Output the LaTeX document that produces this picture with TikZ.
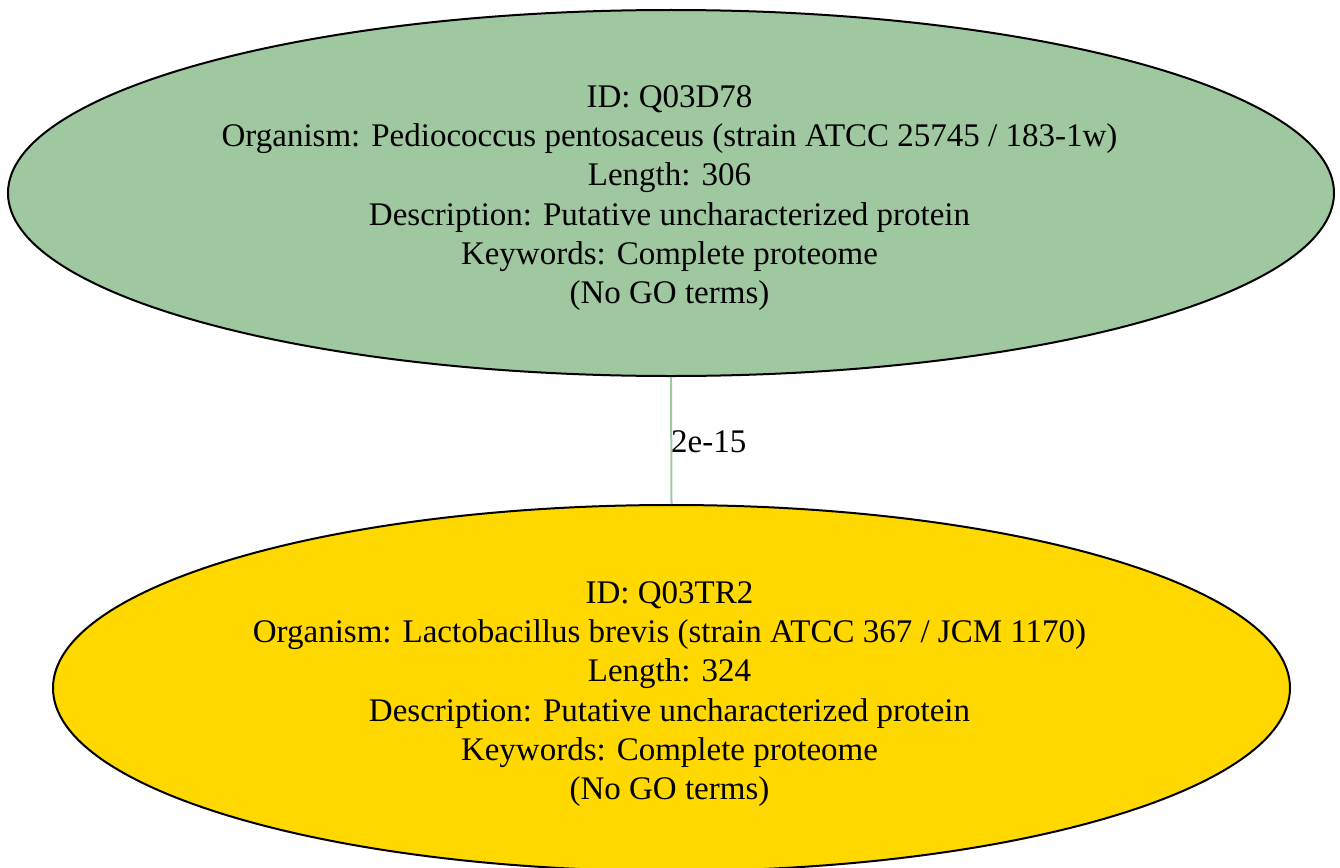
\documentclass[tikz,border=0pt]{standalone}
\usepackage{fontspec}
\setmainfont{Liberation Serif}
\usetikzlibrary{shapes.geometric}
\definecolor{protgreen}{RGB}{160,200,160}
\definecolor{protgold}{RGB}{255,216,0}
\tikzset{
  protein/.style={ellipse, draw=black, line width=2pt, inner sep=0pt,
    align=center, font=\fontsize{33}{39.3}\selectfont},
  hit/.style={draw=protgreen, line width=2pt},
  evalue/.style={font=\fontsize{33}{39.3}\selectfont, anchor=base west, inner sep=0pt}
}
\begin{document}
\begin{tikzpicture}[x=1pt,y=-1pt]
  \useasboundingbox (0,0) rectangle (1340,867);
  \node[protein, fill=protgreen, minimum width=1326pt, minimum height=366pt] (q03d78) at (671,193) {};
  \node[protein, fill=protgold, minimum width=1237pt, minimum height=366pt] (q03tr2) at (671.5,688) {};
  \node[font=\fontsize{33}{39.3}\selectfont, align=center] (t1) at (669.5,198)
    {ID: Q03D78\\Organism: Pediococcus pentosaceus (strain ATCC 25745 / 183-1w)\\Length: 306\\Description: Putative uncharacterized protein\\Keywords: Complete proteome\\(No GO terms)};
  \node[font=\fontsize{33}{39.3}\selectfont, align=center] (t2) at (669.5,694)
    {ID: Q03TR2\\Organism: Lactobacillus brevis (strain ATCC 367 / JCM 1170)\\Length: 324\\Description: Putative uncharacterized protein\\Keywords: Complete proteome\\(No GO terms)};
  \draw[hit] (q03d78.south) -- (q03tr2.north);
  \node[evalue] (ev) at (671,452) {2e-15};
\end{tikzpicture}
\end{document}
